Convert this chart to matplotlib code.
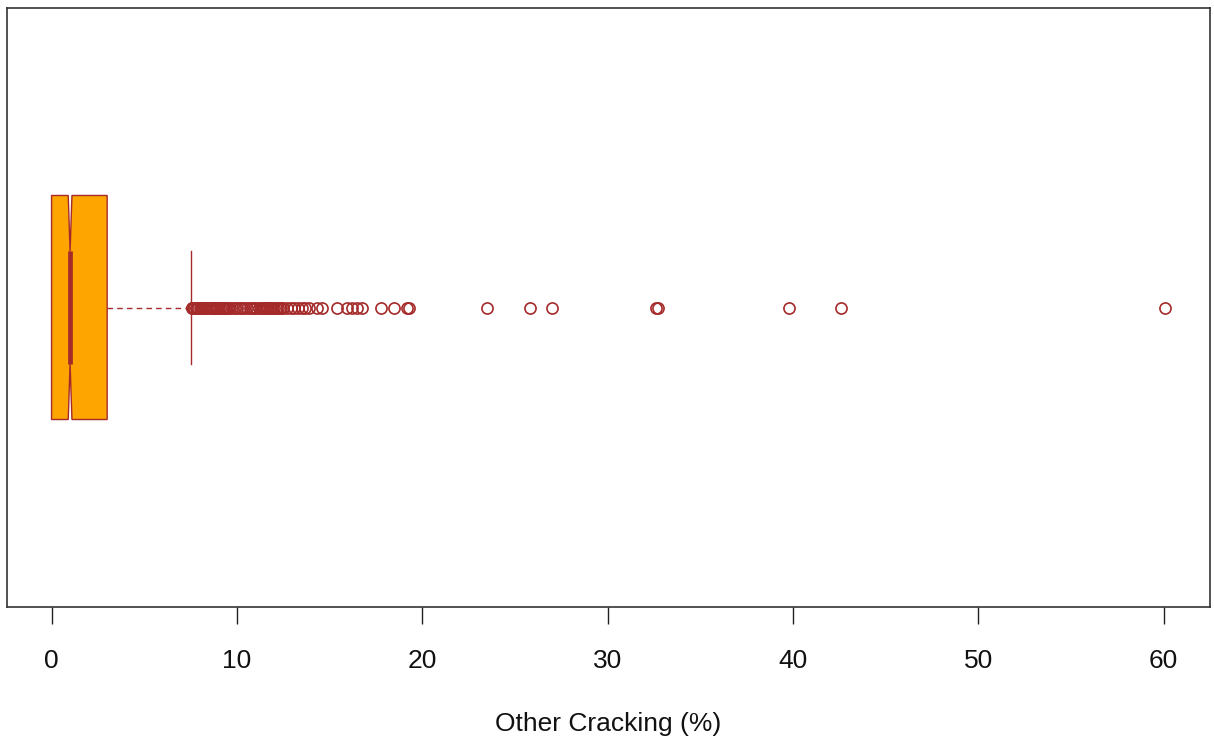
import matplotlib
matplotlib.use("Agg")
import matplotlib.pyplot as plt

# Summary statistics of the "Other Cracking" distribution (percent)
q1 = 0.0
median = 1.0
q3 = 3.0
whisker_low = 0.0
whisker_high = 7.5
notch_low = 0.9
notch_high = 1.1

# Values beyond the upper whisker
outliers = [
    7.6, 7.6, 7.65, 7.7, 7.8, 7.85, 7.9, 8.0, 8.05, 8.1, 8.2, 8.3, 8.35,
    8.5, 8.6, 8.65, 8.7, 8.8, 8.9, 8.95, 9.0, 9.1, 9.2, 9.25, 9.3, 9.4,
    9.5, 9.6, 9.75, 9.9, 10.0, 10.15, 10.3, 10.4, 10.55, 10.7,
    10.8, 10.9, 11.05, 11.2, 11.3, 11.4, 11.5, 11.6, 11.7, 11.8, 11.9,
    12.0, 12.1, 12.2, 12.3, 12.4, 12.5,
    12.7, 12.9, 13.1, 13.3, 13.5, 13.7, 13.9,
    14.3, 14.6,
    15.4, 15.95, 16.2, 16.5, 16.75,
    17.8, 18.5, 19.2, 19.3,
    23.5, 25.8, 27.0, 32.6, 32.7, 39.8, 42.6, 60.1,
]

x_ticks = [0, 10, 20, 30, 40, 50, 60]
x_label = "Other Cracking (%)"

fill_color = "#FFA500"
edge_color = "#A52A2A"

plt.rcParams["font.family"] = ["Liberation Sans", "DejaVu Sans"]

fig = plt.figure(figsize=(12.14, 7.44), dpi=100)
ax = fig.add_axes([7 / 1214, 1 - 607 / 744, 1203 / 1214, 599 / 744])

stats = [{
    "q1": q1, "med": median, "q3": q3,
    "whislo": whisker_low, "whishi": whisker_high,
    "cilo": notch_low, "cihi": notch_high,
    "fliers": outliers,
}]

box_width = 0.374
parts = ax.bxp(
    stats,
    positions=[0.5],
    widths=[box_width],
    capwidths=[box_width / 2],
    vert=False,
    shownotches=True,
    patch_artist=True,
    boxprops=dict(facecolor=fill_color, edgecolor=edge_color, linewidth=1.0),
    medianprops=dict(color=edge_color, linewidth=3.4, solid_capstyle="butt"),
    whiskerprops=dict(color=edge_color, linewidth=1.0, linestyle=(0, (4, 3))),
    capprops=dict(color=edge_color, linewidth=1.0),
    flierprops=dict(marker="o", markersize=8, markerfacecolor="none",
                    markeredgecolor=edge_color, markeredgewidth=1.2,
                    linestyle="none"),
)
# the lower whisker has zero length; keep its cap off the box edge
parts["caps"][0].set_visible(False)
parts["whiskers"][0].set_visible(False)

ax.set_ylim(0, 1)
ax.set_xlim(-2.404, 62.504)
ax.set_yticks([])
ax.set_xticks(x_ticks)
ax.set_xticklabels([str(t) for t in x_ticks])
ax.tick_params(axis="x", length=12, width=1.0, color="#222222",
               labelsize=19, pad=18, labelcolor="#111111")
ax.set_xlabel(x_label, fontsize=19, labelpad=28, color="#111111")

for spine in ax.spines.values():
    spine.set_color("#333333")
    spine.set_linewidth(1.2)

fig.savefig("out.png", dpi=100, facecolor="white")
